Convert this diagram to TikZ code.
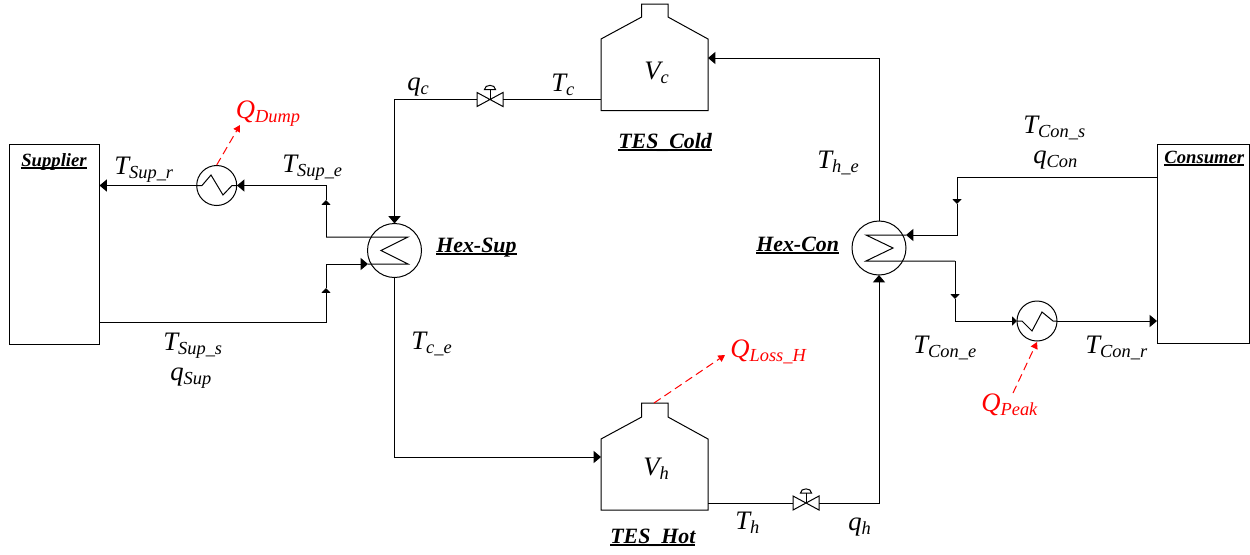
\documentclass[tikz,border=0pt]{standalone}
\usepackage{fontspec}
\setmainfont{Liberation Serif}
\usetikzlibrary{arrows.meta}
\newcommand\bigsz{\fontsize{20pt}{22pt}\selectfont}
\newcommand\subsz{\fontsize{13.8pt}{15pt}\selectfont}
\newcommand\varlab[2]{\itshape\bigsz #1\raisebox{-3pt}{\subsz #2}}
\newcommand\ulab[2]{\bfseries\itshape\fontsize{#1}{#1}\selectfont\setbox0\hbox{#2}\rlap{\rule[-2.2pt]{\wd0}{1.1pt}}\box0}
\newcommand\drawvalve[1]{%
  \draw[pipe] (#1.north west) -- (#1.south east) -- (#1.north east) -- (#1.south west) -- cycle;
  \draw[pipe] (#1.center) -- ++(0,-10);
  \draw[pipe] ([shift={(-5.5,-10)}]#1.center) .. controls +(0,-5.5) and +(0,-5.5) .. ([shift={(5.5,-10)}]#1.center) -- cycle;
}
\tikzset{
  pipe/.style={draw=black,line width=.75pt,line join=miter},
  flow/.style={pipe,-{Triangle[length=5.5pt,width=9pt]}},
  midflow/.style={pipe,-{Triangle[length=3.6pt,width=6.6pt]}},
  heat/.style={draw=red,line width=.75pt,dash pattern=on 6pt off 3.5pt,-{Triangle[length=5pt,width=5.5pt]}},
  boxnode/.style={pipe,rectangle,inner sep=0pt,outer sep=0pt},
  bighx/.style={pipe,circle,inner sep=0pt,outer sep=0pt,minimum size=40.5pt},
  smallhx/.style={pipe,circle,inner sep=0pt,outer sep=0pt,minimum size=30pt},
  tank/.style={rectangle,inner sep=0pt,outer sep=0pt,minimum width=80.25pt},
  valvebox/.style={rectangle,inner sep=0pt,outer sep=0pt,minimum width=19.5pt,minimum height=10.5pt},
  lab/.style={anchor=base west,inner sep=0pt,outer sep=0pt,xshift=-.5pt},
  redlab/.style={lab,text=red},
}
\begin{document}
\begin{tikzpicture}[x=.75pt,y=-.75pt]
\useasboundingbox (0,0) rectangle (1250,554);
% end boxes
\node[boxnode,minimum width=67.5pt,minimum height=150pt] (supplier) at (54.5,244) {};
\node[boxnode,minimum width=69pt,minimum height=149.25pt] (consumer) at (1203,243.5) {};
% exchangers
\node[bighx] (hexsup) at (394.5,250.5) {};
\node[bighx] (hexcon) at (879,248) {};
\node[smallhx] (dump) at (216.7,185.5) {};
\node[smallhx] (peak) at (1037,321) {};
% tanks
\node[tank,minimum height=79.95pt] (tesc) at (654.5,57.3) {};
\node[tank,minimum height=80.25pt] (tesh) at (654.5,456.5) {};
\draw[pipe] (tesc.south west) -- (601,39) -- (641.7,17) -- (641.7,4) -- (668,4) -- (668,17) -- (708,39) -- (tesc.south east) -- cycle;
\draw[pipe] (tesh.south west) -- (601,439) -- (641.7,417) -- (641.7,403) -- (668,403) -- (668,417) -- (708,439) -- (tesh.south east) -- cycle;
% valves
\node[valvebox] (vc) at (490,99.5) {};
\node[valvebox] (vh) at (806,503) {};
\drawvalve{vc}
\drawvalve{vh}
% routing points
\coordinate (tcout) at (601,99.5);
\coordinate (qccorner) at (394.5,99.5);
\coordinate (heout) at (879,58);
\coordinate (tcin) at (708,58);
\coordinate (ceout) at (394.5,457);
\coordinate (thin) at (601,457);
\coordinate (thout) at (708,503);
\coordinate (qhcorner) at (879,503);
\coordinate (su) at (408,237);
\coordinate (st) at (381,250.5);
\coordinate (sl) at (408,264);
\coordinate (sc1) at (326,237);
\coordinate (sm1) at (326,200);
\coordinate (sc2) at (326,185.5);
\coordinate (dumpin) at (237,185.5);
\coordinate (dumpout) at (99.5,185.5);
\coordinate (sup1) at (99.5,322);
\coordinate (sc3) at (326,322);
\coordinate (sm2) at (326,288);
\coordinate (sc4) at (326,264);
\coordinate (sin) at (368,264);
\coordinate (cu) at (866,235);
\coordinate (ct) at (893,248);
\coordinate (cl) at (866,261);
\coordinate (con1) at (1157,177);
\coordinate (cc1) at (957,177);
\coordinate (cm1) at (957,204);
\coordinate (cc2) at (957,235);
\coordinate (cin) at (906,235);
\coordinate (cc3) at (955,261);
\coordinate (cm2) at (955,299);
\coordinate (cc4) at (955,321);
\coordinate (peakin) at (1017,321);
\coordinate (conin) at (1157,321);
\coordinate (dumpfrom) at (216.7,165);
\coordinate (dumpto) at (240,125);
\coordinate (lossfrom) at (654,403);
\coordinate (lossto) at (725,355);
\coordinate (peakfrom) at (1013,393);
\coordinate (peakto) at (1037,342);
% Hex-Sup internals and connectors
\draw[pipe] (sc1) -- (su) -- (st) -- (sl) -- (sin);
\draw[midflow] (sc1) -- (sm1);
\draw[pipe] (sm1) -- (sc2) -- (dumpin);
\draw[flow] (sc2) -- (dumpin);
\draw[flow] (dump.west) -- (dumpout);
\draw[pipe] (dump.west) -- (202,185.5) -- (211,175) -- (223,195) -- (232,185.5) -- (dump.east);
\draw[midflow] (sup1) -- (sc3) -- (sm2);
\draw[flow] (sm2) -- (sc4) -- (sin);
% cold loop
\draw[pipe] (tcout) -- (vc.east);
\draw[flow] (vc.west) -- (qccorner) -- (hexsup.north);
\draw[flow] (hexsup.south) -- (ceout) -- (thin);
\draw[pipe] (thout) -- (vh.west);
\draw[flow] (vh.east) -- (qhcorner) -- (hexcon.south);
\draw[flow] (hexcon.north) -- (heout) -- (tcin);
% Hex-Con
\draw[pipe] (cin) -- (cu) -- (ct) -- (cl) -- (cc3);
\draw[midflow] (con1) -- (cc1) -- (cm1);
\draw[flow] (cm1) -- (cc2) -- (cin);
\draw[midflow] (cc3) -- (cm2);
\draw[midflow] (cm2) -- (cc4) -- (peakin);
\draw[pipe] (peak.west) -- (1022,321) -- (1032,331) -- (1042,312) -- (1053,321) -- (peak.east);
\draw[flow] (peak.east) -- (conin);
% heat flows
\draw[heat] (dumpfrom) -- (dumpto);
\draw[heat] (lossfrom) -- (lossto);
\draw[heat] (peakfrom) -- (peakto);
% labels
\node[lab] (l1) at (115,174) {\varlab{T}{Sup\_r}};
\node[lab] (l2) at (283,172) {\varlab{T}{Sup\_e}};
\node[redlab] (l3) at (236.6,118) {\varlab{Q}{Dump}};
\node[lab] (l4) at (22,166) {\ulab{14pt}{Supplier}};
\node[lab] (l5) at (437,252) {\ulab{16.4pt}{Hex-Sup}};
\node[lab] (l6) at (408,90) {\varlab{q}{c}};
\node[lab] (l7) at (552,91) {\varlab{T}{c}};
\node[lab] (l8) at (645,79) {\varlab{V}{c}};
\node[lab] (l9) at (619,148) {\ulab{16.4pt}{TES\_Cold}};
\node[lab] (l10) at (818,168) {\varlab{T}{h\_e}};
\node[lab] (l11) at (1024,133) {\varlab{T}{Con\_s}};
\node[lab] (l12) at (1034,163) {\varlab{q}{Con}};
\node[lab] (l13) at (757,251) {\ulab{16.4pt}{Hex-Con}};
\node[lab] (l14) at (1165,163) {\ulab{14pt}{Consumer}};
\node[lab] (l15) at (914,353) {\varlab{T}{Con\_e}};
\node[lab] (l16) at (1086,353) {\varlab{T}{Con\_r}};
\node[redlab] (l17) at (982,411) {\varlab{Q}{Peak}};
\node[redlab] (l18) at (731,357) {\varlab{Q}{Loss\_H}};
\node[lab] (l19) at (412,349) {\varlab{T}{c\_e}};
\node[lab] (l20) at (164,350) {\varlab{T}{Sup\_s}};
\node[lab] (l21) at (171,380) {\varlab{q}{Sup}};
\node[lab] (l22) at (644,475) {\varlab{V}{h}};
\node[lab] (l23) at (736,529) {\varlab{T}{h}};
\node[lab] (l24) at (849,530) {\varlab{q}{h}};
\node[lab] (l25) at (611,543) {\ulab{16.4pt}{TES\_Hot}};
\end{tikzpicture}
\end{document}
